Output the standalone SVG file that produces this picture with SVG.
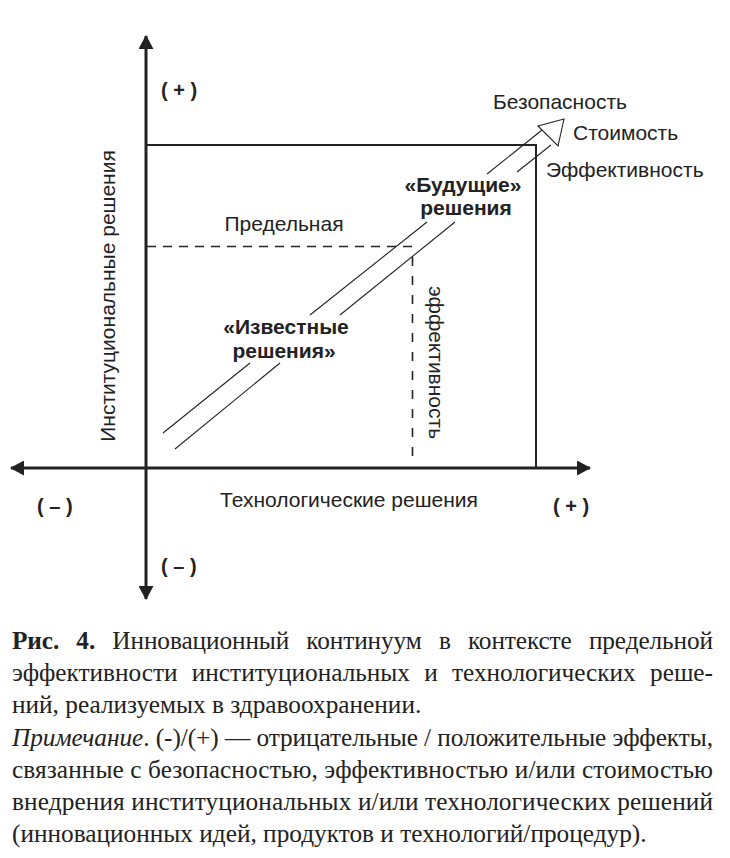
<svg xmlns="http://www.w3.org/2000/svg" width="730" height="858" viewBox="0 0 730 858">
<style>
.ax{stroke:#222;stroke-width:3;fill:none}
.box{stroke:#222;stroke-width:2;fill:none}
.thin{stroke:#222;stroke-width:1.1;fill:none}
.dash{stroke:#222;stroke-width:1.6;fill:none}
.lbl{font-family:"Liberation Sans",Arial,sans-serif;font-size:21px;fill:#222}
.bld{font-family:"Liberation Sans",Arial,sans-serif;font-size:21px;font-weight:bold;fill:#222}
.sgn{font-family:"Liberation Sans",Arial,sans-serif;font-size:20px;font-weight:bold;fill:#222}
.cap{font-family:"Liberation Serif","Times New Roman",serif;font-size:25.3px;fill:#222}
</style>
<defs>
<marker id="ah" viewBox="0 0 14 15" refX="13" refY="7.5" markerWidth="14" markerHeight="15" markerUnits="userSpaceOnUse" orient="auto">
<path d="M0,0 L14,7.5 L0,15 Z" fill="#222"/>
</marker>
</defs>
<g id="axes">
<line class="ax" x1="146" y1="468" x2="146" y2="36" marker-end="url(#ah)"/>
<line class="ax" x1="146" y1="468" x2="146" y2="599" marker-end="url(#ah)"/>
<line class="ax" x1="146" y1="468" x2="590" y2="468" marker-end="url(#ah)"/>
<line class="ax" x1="146" y1="468" x2="11" y2="468" marker-end="url(#ah)"/>
</g>
<g id="frontier">
<polyline class="box" points="146,145 536,145 536,468"/>
</g>
<g id="marginal">
<line class="dash" x1="147" y1="246.5" x2="412" y2="246.5" stroke-dasharray="9,7"/>
<line class="dash" x1="412.5" y1="257" x2="412.5" y2="459" stroke-dasharray="9,10"/>
<text class="lbl" x="284" y="231" text-anchor="middle">Предельная</text>
<text class="lbl" transform="translate(429,362.5) rotate(90)" text-anchor="middle">эффективность</text>
</g>
<g id="connectors">
<line class="thin" x1="163" y1="433" x2="250" y2="363"/>
<line class="thin" x1="310" y1="315" x2="427" y2="222"/>
<line class="thin" x1="487" y1="174" x2="542" y2="130"/>
<line class="thin" x1="175" y1="449" x2="280" y2="363"/>
<line class="thin" x1="340" y1="315" x2="455" y2="222"/>
<line class="thin" x1="517" y1="172" x2="551" y2="145"/>
<polygon class="thin" points="538,126 564,119 558,146"/>
</g>
<g id="known">
<text class="bld" x="286" y="334" text-anchor="middle">«Известные</text>
<text class="bld" x="284" y="358" text-anchor="middle">решения»</text>
</g>
<g id="future">
<text class="bld" x="463" y="192" text-anchor="middle">«Будущие»</text>
<text class="bld" x="466" y="215" text-anchor="middle">решения</text>
</g>
<g id="criteria">
<text class="lbl" x="493" y="109">Безопасность</text>
<text class="lbl" x="573" y="140">Стоимость</text>
<text class="lbl" x="546" y="177">Эффективность</text>
</g>
<g id="axis-labels">
<text class="lbl" transform="translate(115,296) rotate(-90)" text-anchor="middle">Институциональные решения</text>
<text class="lbl" x="349" y="507" text-anchor="middle">Технологические решения</text>
<text class="sgn" x="161" y="97">( + )</text>
<text class="sgn" x="37" y="513">( – )</text>
<text class="sgn" x="553" y="513">( + )</text>
<text class="sgn" x="161" y="573">( – )</text>
</g>
<g id="caption">
<text class="cap" x="12" y="649" word-spacing="11" textLength="701" lengthAdjust="spacing"><tspan font-weight="bold">Рис. 4.</tspan> Инновационный континуум в контексте предельной</text>
<text class="cap" x="12" y="681" word-spacing="8" textLength="701" lengthAdjust="spacing">эффективности институциональных и технологических реше-</text>
<text class="cap" x="12" y="713">ний, реализуемых в здравоохранении.</text>
<text class="cap" x="12" y="746" textLength="701" lengthAdjust="spacing"><tspan font-style="italic">Примечание</tspan>. (-)/(+) — отрицательные / положительные эффекты,</text>
<text class="cap" x="12" y="778" textLength="701" lengthAdjust="spacing">связанные с безопасностью, эффективностью и/или стоимостью</text>
<text class="cap" x="12" y="810" textLength="701" lengthAdjust="spacing">внедрения институциональных и/или технологических решений</text>
<text class="cap" x="12" y="842">(инновационных идей, продуктов и технологий/процедур).</text>
</g>
</svg>
